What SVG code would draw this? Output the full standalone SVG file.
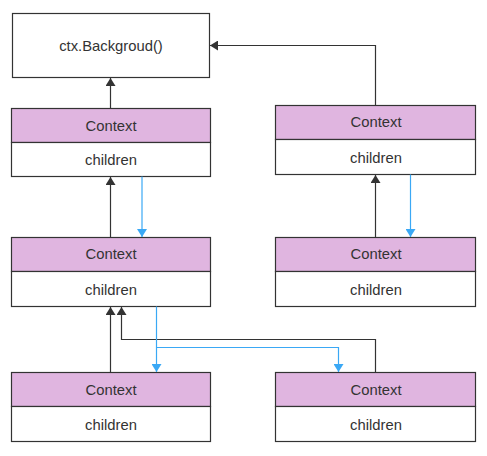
<svg xmlns="http://www.w3.org/2000/svg" width="487" height="456" viewBox="0 0 487 456">
<style>
.box{fill:#fff;stroke:#333;stroke-width:1.2}
.hd{fill:#e0b5e0;stroke:#333;stroke-width:1.2}
.t{font-family:"Liberation Sans",Arial,sans-serif;font-size:14.8px;fill:#333;text-anchor:middle;dominant-baseline:central}
.k{fill:none;stroke:#333;stroke-width:1.2}
.b{fill:none;stroke:#3aa8f5;stroke-width:1.2}
</style>
<defs>
<marker id="ak" markerWidth="8" markerHeight="10" refX="8" refY="5" orient="auto" markerUnits="userSpaceOnUse"><path d="M0,0 L8,5 L0,10 Z" fill="#333"/></marker>
<marker id="ab" markerWidth="8" markerHeight="10" refX="8" refY="5" orient="auto" markerUnits="userSpaceOnUse"><path d="M0,0 L8,5 L0,10 Z" fill="#3aa8f5"/></marker>
</defs>
<g id="bg"><rect class="box" x="12.5" y="13.5" width="197" height="64"/><text class="t" x="111" y="45.5">ctx.Backgroud()</text></g>
<g id="c1"><rect class="hd" x="11.5" y="108.5" width="199" height="34"/><rect class="box" x="11.5" y="142.5" width="199" height="34"/><text class="t" x="111" y="125.5">Context</text><text class="t" x="111" y="160">children</text></g>
<g id="c2"><rect class="hd" x="11.5" y="237.5" width="199" height="34"/><rect class="box" x="11.5" y="271.5" width="199" height="35"/><text class="t" x="111" y="254">Context</text><text class="t" x="111" y="289.5">children</text></g>
<g id="c3"><rect class="hd" x="11.5" y="372.5" width="199" height="34"/><rect class="box" x="11.5" y="406.5" width="199" height="35"/><text class="t" x="111" y="389.5">Context</text><text class="t" x="111" y="425">children</text></g>
<g id="c4"><rect class="hd" x="275.5" y="105.5" width="200" height="34"/><rect class="box" x="275.5" y="139.5" width="200" height="35"/><text class="t" x="376" y="122">Context</text><text class="t" x="376" y="158">children</text></g>
<g id="c5"><rect class="hd" x="275.5" y="237.5" width="200" height="34"/><rect class="box" x="275.5" y="271.5" width="200" height="35"/><text class="t" x="376" y="254">Context</text><text class="t" x="376" y="289.5">children</text></g>
<g id="c6"><rect class="hd" x="275.5" y="372.5" width="200" height="34"/><rect class="box" x="275.5" y="406.5" width="200" height="35"/><text class="t" x="376" y="389.5">Context</text><text class="t" x="376" y="425">children</text></g>
<g id="connectors">
<path class="k" d="M110.5,108.5 V78" marker-end="url(#ak)"/>
<path class="k" d="M375.5,105.5 V45.5 H210" marker-end="url(#ak)"/>
<path class="k" d="M110.5,237.5 V177" marker-end="url(#ak)"/>
<path class="k" d="M375.5,237.5 V175" marker-end="url(#ak)"/>
<path class="k" d="M110.5,372.5 V307" marker-end="url(#ak)"/>
<path class="k" d="M375.5,372.5 V339.5 H121.5 V307" marker-end="url(#ak)"/>
<path class="b" d="M142,176.5 V237" marker-end="url(#ab)"/>
<path class="b" d="M410.5,174.5 V237" marker-end="url(#ab)"/>
<path class="b" d="M156.5,306.5 V372" marker-end="url(#ab)"/>
<path class="b" d="M156.5,347.5 H338.5 V372" marker-end="url(#ab)"/>
</g>
</svg>
